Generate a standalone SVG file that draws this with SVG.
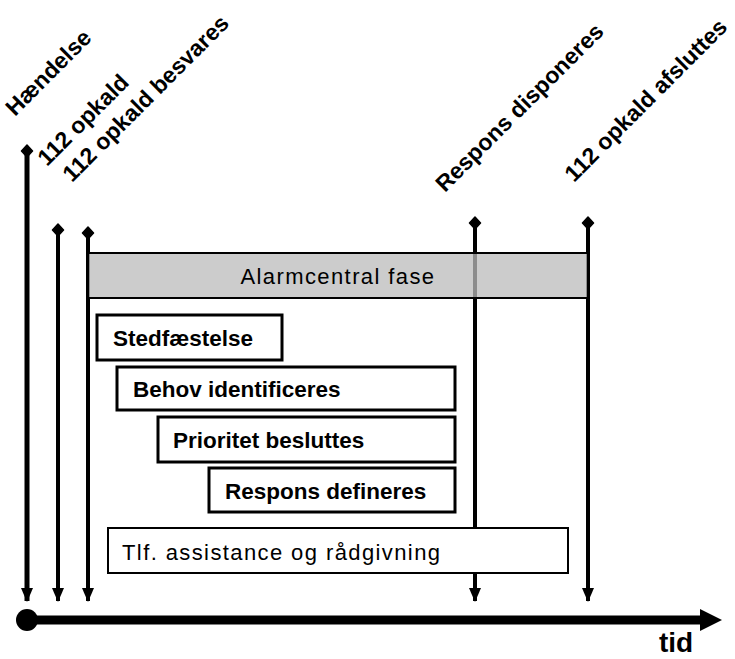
<svg xmlns="http://www.w3.org/2000/svg" width="735" height="659" viewBox="0 0 735 659">
  <style>
    .lbl { font-family: "Liberation Sans", Arial, sans-serif; font-size: 23px; font-weight: bold; fill: #000; }
    .step { font-family: "Liberation Sans", Arial, sans-serif; font-size: 22.5px; font-weight: bold; fill: #000; }
    .plain { font-family: "Liberation Sans", Arial, sans-serif; font-size: 22px; fill: #000; }
    .ev { stroke: #000; stroke-width: 4; fill: none; marker-start: url(#knob); marker-end: url(#head); }
    .stepbox { fill: #fff; stroke: #000; stroke-width: 3; }
  </style>
  <defs>
    <marker id="knob" viewBox="0 0 14 14" refX="7" refY="7" markerWidth="14" markerHeight="14" markerUnits="userSpaceOnUse" orient="auto">
      <path d="M1,7 L7,1.5 L13,7 L7,12.5 Z" fill="#000" stroke="#000" stroke-width="1.5" stroke-linejoin="round"/>
    </marker>
    <marker id="head" viewBox="0 0 14 12" refX="13" refY="6" markerWidth="14" markerHeight="12" markerUnits="userSpaceOnUse" orient="auto">
      <path d="M0,0 L14,6 L0,12 Z" fill="#000"/>
    </marker>
  </defs>

  <!-- event lines -->
  <g id="connectors">
    <line class="ev" x1="27" y1="151" x2="27" y2="601" style="stroke-width:5"/>
    <line class="ev" x1="58" y1="230" x2="58" y2="601"/>
    <line class="ev" x1="88" y1="233" x2="88" y2="601"/>
    <line class="ev" x1="475" y1="223" x2="475" y2="601"/>
    <line class="ev" x1="588" y1="223" x2="588" y2="601"/>
  </g>

  <!-- time axis -->
  <g id="axis">
    <circle cx="27" cy="620" r="11" fill="#000"/>
    <line x1="27" y1="620" x2="702" y2="620" stroke="#000" stroke-width="9"/>
    <path d="M700,609 L722,620 L700,631 Z" fill="#000"/>
    <text x="659" y="652" style="font-family:'Liberation Sans',Arial,sans-serif;font-size:28px;font-weight:bold">tid</text>
  </g>

  <!-- event labels -->
  <g id="events">
    <text class="lbl" transform="translate(15,117) rotate(-45)">Hændelse</text>
    <text class="lbl" transform="translate(47,167) rotate(-45)">112 opkald</text>
    <text class="lbl" transform="translate(72,183) rotate(-45)">112 opkald besvares</text>
    <text class="lbl" transform="translate(445,193) rotate(-45)">Respons disponeres</text>
    <text class="lbl" transform="translate(574,183) rotate(-45)">112 opkald afsluttes</text>
  </g>

  <g id="phase">
    <rect x="88" y="253" width="500" height="45" fill="#bbbbbb" fill-opacity="0.75" stroke="#000" stroke-width="2"/>
    <text class="plain" x="338" y="284" text-anchor="middle" letter-spacing="1.4">Alarmcentral fase</text>
  </g>

  <g id="stedfaestelse">
    <rect class="stepbox" x="97" y="315" width="185" height="45"/>
    <text class="step" x="113" y="346">Stedfæstelse</text>
  </g>
  <g id="behov">
    <rect class="stepbox" x="117" y="367" width="338" height="43"/>
    <text class="step" x="133" y="397">Behov identificeres</text>
  </g>
  <g id="prioritet">
    <rect class="stepbox" x="158" y="417" width="297" height="45"/>
    <text class="step" x="173" y="448">Prioritet besluttes</text>
  </g>
  <g id="respons">
    <rect class="stepbox" x="209" y="468" width="246" height="44"/>
    <text class="step" x="225" y="499">Respons defineres</text>
  </g>
  <g id="tlf">
    <rect x="108" y="528" width="460" height="45" fill="#fff" stroke="#000" stroke-width="2"/>
    <text class="plain" x="122" y="560" letter-spacing="1.4">Tlf. assistance og rådgivning</text>
  </g>
</svg>
